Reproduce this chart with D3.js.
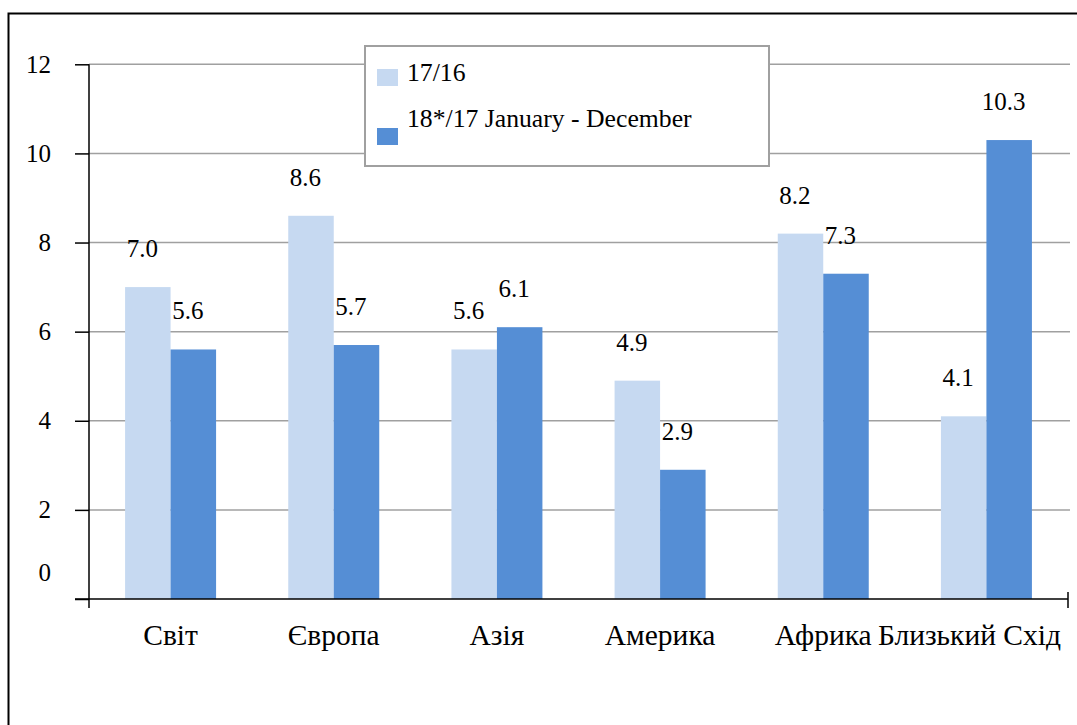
<!DOCTYPE html>
<html>
<head>
<meta charset="utf-8">
<script src="https://cdn.jsdelivr.net/npm/d3@7"></script>
<style>
  body { margin: 0; background: #fff; }
</style>
</head>
<body>
<div id="scene"></div>
<script>
// chart data
var categories = ["Світ", "Європа", "Азія", "Америка", "Африка", "Близький Схід"];
var seriesNames = ["17/16", "18*/17 January - December"];
var values1716 = [7.0, 8.6, 5.6, 4.9, 8.2, 4.1];
var values1817 = [5.6, 5.7, 6.1, 2.9, 7.3, 10.3];
var yTicks = [0, 2, 4, 6, 8, 10, 12];
var colors = ["#c6d9f1", "#558ed5"];

var ctx = {
  w: 1077,
  h: 725,
  left: 89,
  right: 1068,
  top: 64.3,
  bottom: 599,
  font: "'Liberation Serif', 'Times New Roman', serif",
  numSize: 25,
  legendSize: 25.7,
  catSize: 29.5
};

var svg = d3.select("#scene").append("svg")
  .attr("width", ctx.w)
  .attr("height", ctx.h);

var setFont = function(sel, size) {
  sel.style("font-family", ctx.font)
    .style("font-size", size + "px")
    .style("fill", "#000");
};

// outer frame (runs off the right and bottom edges)
svg.append("rect")
  .attr("x", 8.5).attr("y", 13.5)
  .attr("width", 1100).attr("height", 760)
  .attr("fill", "none")
  .attr("stroke", "#000")
  .attr("stroke-width", 2);

var y = d3.scaleLinear().domain([0, 12]).range([ctx.bottom, ctx.top]);
var x = d3.scaleBand().domain(categories).range([ctx.left, ctx.right]);
var groupPad = (x.bandwidth() - 91) / 2;
var x1 = d3.scaleBand().domain([0, 1]).range([groupPad, x.bandwidth() - groupPad]);

// gridlines
svg.append("g").selectAll("line")
  .data(yTicks.filter(function(d) { return d > 0; }))
  .enter().append("line")
  .attr("x1", ctx.left).attr("x2", ctx.right + 2)
  .attr("y1", function(d) { return y(d); })
  .attr("y2", function(d) { return y(d); })
  .attr("stroke", "#a0a0a0")
  .attr("stroke-width", 1.5);

// bars
var rows = categories.map(function(c, i) {
  return { cat: c, vals: [values1716[i], values1817[i]] };
});

var groups = svg.append("g").selectAll("g")
  .data(rows)
  .enter().append("g")
  .attr("transform", function(d) { return "translate(" + x(d.cat) + ",0)"; });

groups.selectAll("rect")
  .data(function(d) { return d.vals.map(function(v, k) { return { k: k, v: v }; }); })
  .enter().append("rect")
  .attr("x", function(d) { return x1(d.k); })
  .attr("width", x1.bandwidth())
  .attr("y", function(d) { return y(d.v); })
  .attr("height", function(d) { return y(0) - y(d.v); })
  .attr("fill", function(d) { return colors[d.k]; });

// data labels
groups.selectAll("text")
  .data(function(d) { return d.vals.map(function(v, k) { return { k: k, v: v }; }); })
  .enter().append("text")
  .attr("x", function(d) { return x1(d.k) + x1.bandwidth() / 2 - 5.5; })
  .attr("y", function(d) { return y(d.v) - 30; })
  .attr("text-anchor", "middle")
  .call(setFont, ctx.numSize)
  .text(function(d) { return d.v.toFixed(1); });

// y axis
var yAxis = svg.append("g")
  .attr("transform", "translate(" + ctx.left + ",0)")
  .call(d3.axisLeft(y).tickValues(yTicks).tickSize(14).tickPadding(24)
    .tickFormat(d3.format("d")));
yAxis.select(".domain").remove();
yAxis.selectAll(".tick line").attr("stroke", "#000").attr("stroke-width", 1.5);
yAxis.selectAll(".tick text")
  .call(setFont, ctx.numSize)
  .attr("dy", function(d) { return d === 0 ? "-0.75em" : "0.32em"; });

// axis lines
svg.append("line")
  .attr("x1", ctx.left).attr("x2", ctx.left)
  .attr("y1", ctx.top).attr("y2", ctx.bottom + 9)
  .attr("stroke", "#000").attr("stroke-width", 1.5);
svg.append("line")
  .attr("x1", ctx.left - 14).attr("x2", ctx.right)
  .attr("y1", ctx.bottom).attr("y2", ctx.bottom)
  .attr("stroke", "#000").attr("stroke-width", 1.5);
svg.append("line")
  .attr("x1", ctx.right).attr("x2", ctx.right)
  .attr("y1", ctx.bottom - 7).attr("y2", ctx.bottom + 9)
  .attr("stroke", "#000").attr("stroke-width", 1.5);

// category labels, kept inside the plot's right end
svg.append("g").selectAll("text")
  .data(categories)
  .enter().append("text")
  .attr("x", function(d) { return x(d) + x.bandwidth() / 2; })
  .attr("y", 645)
  .attr("text-anchor", "middle")
  .call(setFont, ctx.catSize)
  .text(function(d) { return d; })
  .each(function() {
    var box = this.getBBox();
    var over = box.x + box.width - (ctx.right - 7);
    if (over > 0) d3.select(this).attr("x", +d3.select(this).attr("x") - over);
  });

// legend
var legend = svg.append("g");
legend.append("rect")
  .attr("x", 365).attr("y", 46)
  .attr("width", 404).attr("height", 120)
  .attr("fill", "#fff")
  .attr("stroke", "#a0a0a0")
  .attr("stroke-width", 2);

var legendRows = [
  { name: seriesNames[0], color: colors[0], ty: 81, sy: 69 },
  { name: seriesNames[1], color: colors[1], ty: 127, sy: 128 }
];
legend.selectAll("rect.sw")
  .data(legendRows)
  .enter().append("rect")
  .attr("class", "sw")
  .attr("x", 377).attr("y", function(d) { return d.sy; })
  .attr("width", 21).attr("height", 17)
  .attr("fill", function(d) { return d.color; });
legend.selectAll("text")
  .data(legendRows)
  .enter().append("text")
  .attr("x", 407).attr("y", function(d) { return d.ty; })
  .call(setFont, ctx.legendSize)
  .text(function(d) { return d.name; });
</script>
</body>
</html>
